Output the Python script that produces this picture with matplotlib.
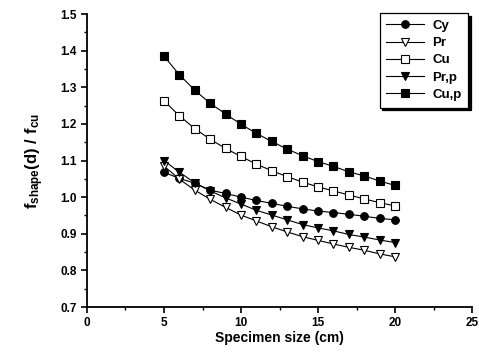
import matplotlib
matplotlib.use("Agg")
import matplotlib.pyplot as plt
from matplotlib.ticker import MultipleLocator

plt.rcParams['font.family'] = ['Liberation Sans', 'DejaVu Sans']
plt.rcParams['font.weight'] = 'bold'
plt.rcParams['mathtext.fontset'] = 'custom'
plt.rcParams['mathtext.bf'] = 'Liberation Sans:bold'
plt.rcParams['mathtext.rm'] = 'Liberation Sans:bold'
plt.rcParams['mathtext.it'] = 'Liberation Sans:bold'

sizes = [5, 6, 7, 8, 9, 10, 11, 12, 13, 14, 15, 16, 17, 18, 19, 20]
cy = [1.068, 1.051, 1.038, 1.019, 1.010, 1.000, 0.991, 0.983, 0.975, 0.968,
      0.962, 0.958, 0.953, 0.948, 0.942, 0.938]
pr = [1.085, 1.049, 1.019, 0.994, 0.972, 0.951, 0.935, 0.919, 0.905, 0.892,
      0.882, 0.872, 0.863, 0.855, 0.845, 0.837]
cu = [1.263, 1.222, 1.187, 1.158, 1.133, 1.111, 1.090, 1.072, 1.056, 1.041,
      1.028, 1.017, 1.006, 0.995, 0.985, 0.976]
prp = [1.100, 1.068, 1.039, 1.017, 0.998, 0.981, 0.964, 0.951, 0.938, 0.925,
       0.916, 0.908, 0.898, 0.891, 0.883, 0.876]
cup = [1.385, 1.334, 1.292, 1.256, 1.227, 1.199, 1.174, 1.152, 1.131, 1.113,
       1.097, 1.084, 1.069, 1.058, 1.044, 1.032]
labels = ['Cy', 'Pr', 'Cu', 'Pr,p', 'Cu,p']

fig = plt.figure(figsize=(4.79, 3.56), dpi=100)
ax = fig.add_axes([0.1816, 0.1376, 0.8040, 0.823])

styles = [
    (cy, 'o', 'black'),
    (pr, 'v', 'white'),
    (cu, 's', 'white'),
    (prp, 'v', 'black'),
    (cup, 's', 'black'),
]
for (vals, m, fc), lab in zip(styles, labels):
    ax.plot(sizes, vals, color='black', lw=0.8, marker=m, markersize=5.5,
            markerfacecolor=fc, markeredgecolor='black', markeredgewidth=0.8,
            label=lab)

ax.set_xlim(0, 25)
ax.set_ylim(0.7, 1.5)
ax.xaxis.set_major_locator(MultipleLocator(5))
ax.xaxis.set_minor_locator(MultipleLocator(2.5))
ax.yaxis.set_major_locator(MultipleLocator(0.1))
ax.yaxis.set_minor_locator(MultipleLocator(0.05))
ax.tick_params(which='major', direction='out', length=4, width=1.2,
               labelsize=8.5)
ax.tick_params(which='minor', direction='out', length=2.5, width=1)
for lbl in ax.get_xticklabels() + ax.get_yticklabels():
    lbl.set_fontweight('bold')
ax.spines['top'].set_visible(False)
ax.spines['right'].set_visible(False)
ax.spines['left'].set_linewidth(1.3)
ax.spines['bottom'].set_linewidth(1.3)

ax.set_xlabel('Specimen size (cm)', fontsize=10, fontweight='bold', labelpad=1)
ax.set_ylabel(r'$\mathbf{f_{shape}(d)\ /\ f_{cu}}$', fontsize=12,
              labelpad=10)

leg = ax.legend(loc='upper right', bbox_to_anchor=(0.99, 1.003), fontsize=9.5,
                frameon=True, fancybox=False, edgecolor='black',
                shadow={'color': 'black', 'alpha': 1.0},
                handlelength=2.9, labelspacing=0.38, borderpad=0.5,
                handletextpad=0.6, borderaxespad=0)
leg.get_frame().set_linewidth(0.9)
for t in leg.get_texts():
    t.set_fontweight('bold')

fig.savefig('out.png', dpi=100)
